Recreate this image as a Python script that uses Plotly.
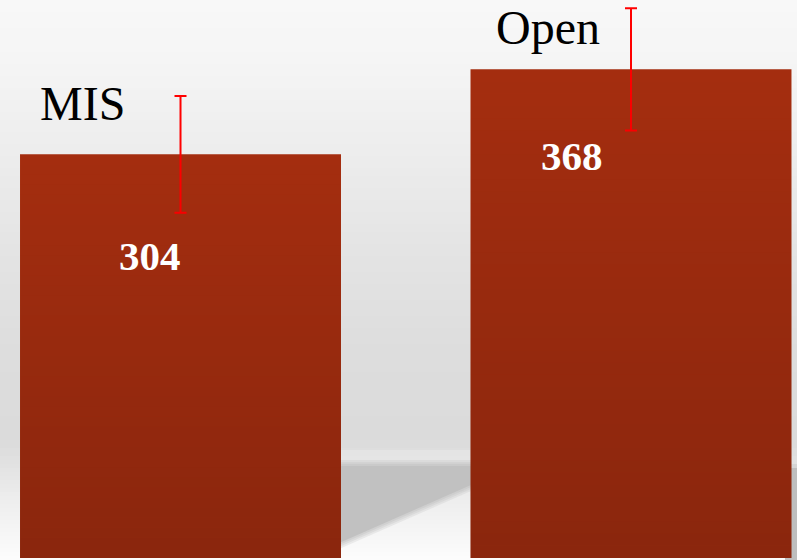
import plotly.graph_objects as go

# ---- data ----
categories = ["MIS", "Open"]
values = [304, 368]
errors = [44, 46]
value_labels = ["304", "368"]

# ---- layout constants ----
W, H = 797, 560
BAR_COLOR = (165, 46, 16)
BAR_DARKEN = 0.16
BARGAP = 0.2875
X_RANGE = [-0.4007, 1.3685]
Y_RANGE = [-1.5, 420.2]
SERIF = "Times New Roman, Liberation Serif, serif"

# category label positions (x data coords, y: data coord or None = top edge)
cat_pos = [(-0.217, 342.5), (0.815, None)]
val_pos = [(-0.068, 227.5), (0.869, 302.5)]


def interp(p, pts):
    for (a, va), (b, vb) in zip(pts, pts[1:]):
        if a <= p <= b:
            return va + (vb - va) * (p - a) / (b - a)
    return pts[-1][1]


def py2paper(py):
    return 1 - py / H


shapes = []

# background vertical gradient (pixel rows)
bg_pts = [(0, 248), (60, 245), (150, 237), (250, 228), (350, 221), (440, 219),
          (460, 224), (500, 238), (560, 252)]
step = 4
for py in range(0, H, step):
    g = round(interp(py + step / 2, bg_pts))
    shapes.append(dict(type="rect", xref="paper", yref="paper", x0=0, x1=1,
                       y0=py2paper(min(H, py + step + 1)), y1=py2paper(py),
                       fillcolor=f"rgb({g},{g},{g})", line_width=0, layer="below"))


def path(pts):
    return "M " + " L ".join(f"{x / W:.4f},{py2paper(y):.4f}" for x, y in pts) + " Z"


# floor shadow between bars (decorative, soft edges by layering)
shapes.append(dict(type="path", xref="paper", yref="paper",
                   path=path([(330, 450), (480, 450), (480, 463), (330, 463)]),
                   fillcolor="rgba(232,232,232,0.6)", line_width=0, layer="below"))
for d, alpha in [(6, 0.25), (4, 0.3), (2, 0.4), (0, 1.0)]:
    shapes.append(dict(type="path", xref="paper", yref="paper",
                       path=path([(330, 466 - d), (480, 466 - d), (480, 481 + d),
                                  (330, 547 + d)]),
                       fillcolor=f"rgba(193,193,193,{alpha})", line_width=0,
                       layer="below"))
for d, alpha in [(4, 0.35), (0, 1.0)]:
    shapes.append(dict(type="path", xref="paper", yref="paper",
                       path=path([(785, 468 - d), (797, 468 - d), (797, 560),
                                  (785, 560)]),
                       fillcolor=f"rgba(190,190,190,{alpha})", line_width=0,
                       layer="below"))

# vertical shading on each bar, derived from the data values
bw = 1 - BARGAP
n = 40
for i, v in enumerate(values):
    for k in range(n):
        y0 = v * k / n
        y1 = v * (k + 1) / n
        a = BAR_DARKEN * (1 - (k + 0.5) / n)
        shapes.append(dict(type="rect", xref="x", yref="y",
                           x0=i - bw / 2, x1=i + bw / 2, y0=y0, y1=y1,
                           fillcolor=f"rgba(0,0,0,{a:.4f})", line_width=0,
                           layer="above"))

fig = go.Figure()
fig.add_trace(go.Bar(
    x=list(range(len(categories))), y=values,
    marker=dict(color="rgb(%d,%d,%d)" % BAR_COLOR, line_width=0),
    error_y=dict(type="data", array=errors, visible=True,
                 color="#ff0000", thickness=2, width=6),
    hoverinfo="skip",
))

annotations = []
for (x, y), t in zip(cat_pos, categories):
    if y is None:
        annotations.append(dict(x=x, y=1, xref="x", yref="paper", text=t,
                                showarrow=False, borderpad=0,
                                font=dict(family=SERIF, size=48, color="black"),
                                xanchor="center", yanchor="top"))
    else:
        annotations.append(dict(x=x, y=y, xref="x", yref="y", text=t,
                                showarrow=False,
                                font=dict(family=SERIF, size=48, color="black"),
                                xanchor="center", yanchor="middle"))
for (x, y), t in zip(val_pos, value_labels):
    annotations.append(dict(x=x, y=y, xref="x", yref="y", text=f"<b>{t}</b>",
                            showarrow=False,
                            font=dict(family=SERIF, size=41, color="white"),
                            xanchor="center", yanchor="middle"))

fig.update_layout(
    width=W, height=H,
    margin=dict(l=0, r=0, t=0, b=0),
    paper_bgcolor="rgb(240,240,240)",
    plot_bgcolor="rgba(0,0,0,0)",
    bargap=BARGAP,
    showlegend=False,
    xaxis=dict(range=X_RANGE, visible=False, fixedrange=True),
    yaxis=dict(range=Y_RANGE, visible=False, fixedrange=True),
    shapes=shapes,
    annotations=annotations,
)

fig.write_html("out.html", config={"displayModeBar": False})
